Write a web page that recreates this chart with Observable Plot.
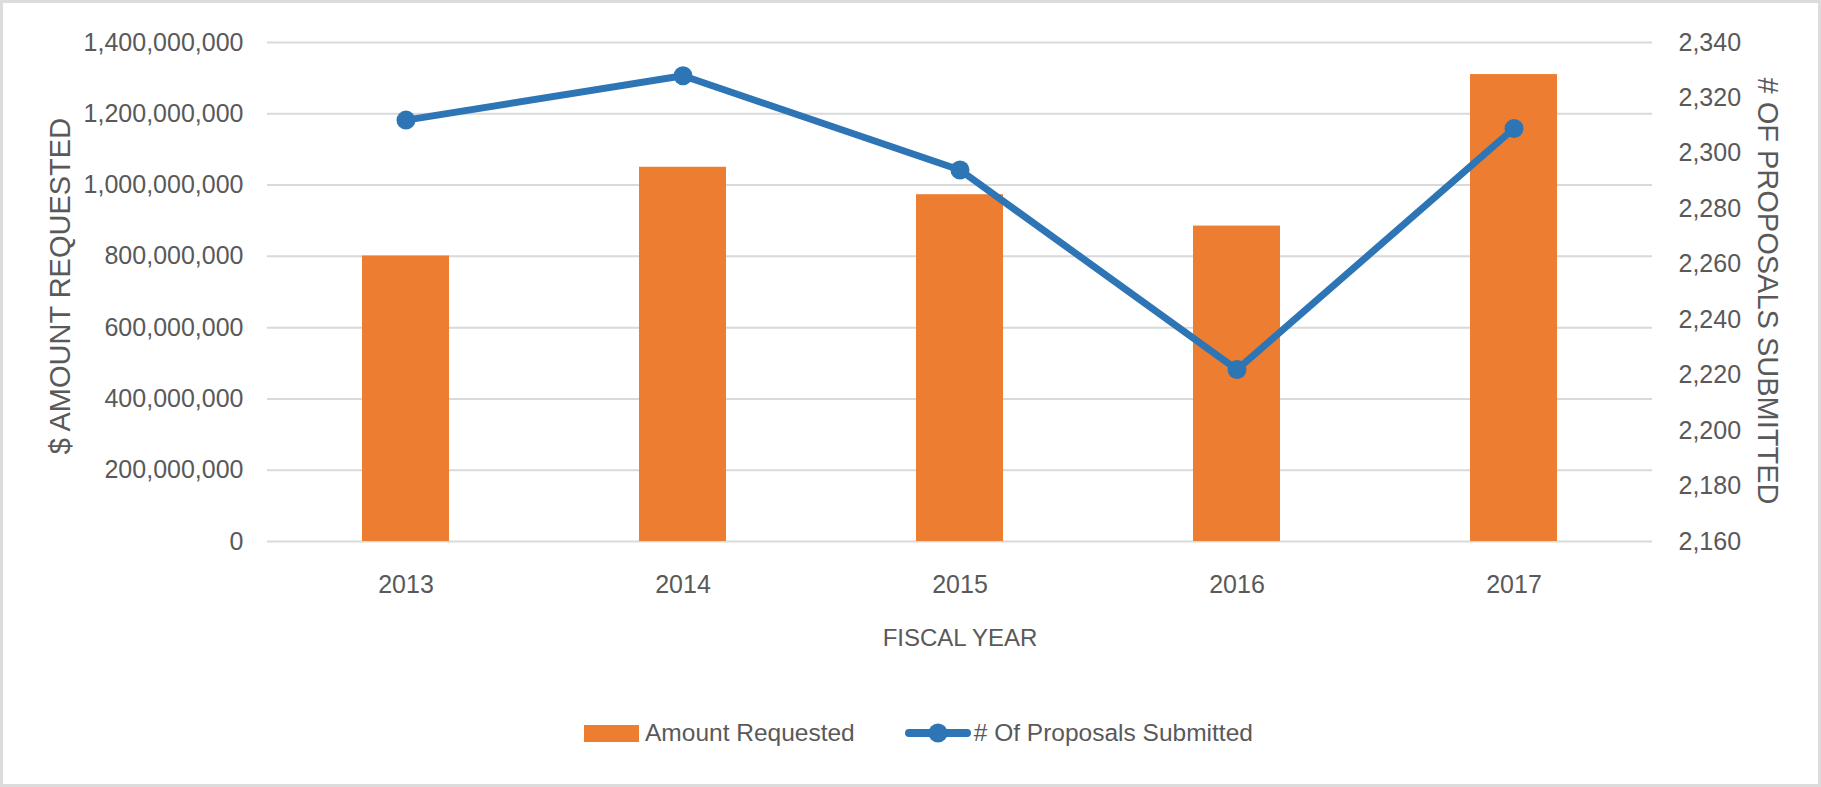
<!DOCTYPE html>
<html>
<head>
<meta charset="utf-8">
<script src="https://cdn.jsdelivr.net/npm/d3@7"></script>
<script src="https://cdn.jsdelivr.net/npm/@observablehq/plot@0.6"></script>
<style>
  html, body { margin: 0; padding: 0; background: #fff; }
  #wrap { position: relative; width: 1821px; height: 787px; overflow: hidden; background: #fff; }
  #frame { position: absolute; left: 0; top: 0; width: 1821px; height: 787px; box-sizing: border-box; border: 3px solid #dcdcdc; pointer-events: none; }
  #legend { position: absolute; top: 714px; left: 584px; height: 38px; display: flex; align-items: center;
            font-family: "Liberation Sans", sans-serif; font-size: 24.5px; color: #595959; }
  .sw-bar { width: 55px; height: 17px; background: #ed7d31; margin-right: 6px; }
  .lbl { white-space: nowrap; }
</style>
</head>
<body>
<div id="wrap">
  <div id="chart"></div>
  <div id="legend"></div>
  <div id="frame"></div>
</div>
<script>
// ---- data ----
const years = ["2013", "2014", "2015", "2016", "2017"];
const amountRequested = [801e6, 1050e6, 973e6, 885e6, 1310e6];
const proposalsSubmitted = [2312, 2328, 2294, 2222, 2309];
const leftTicks = [0, 2e8, 4e8, 6e8, 8e8, 10e8, 12e8, 14e8];
const rightTicks = [2160, 2180, 2200, 2220, 2240, 2260, 2280, 2300, 2320, 2340];
const seriesNames = ["Amount Requested", "# Of Proposals Submitted"];
const axisTitles = ["$ AMOUNT REQUESTED", "# OF PROPOSALS SUBMITTED", "FISCAL YEAR"];

// ---- secondary axis mapping onto the primary y scale ----
const leftMax = 1.4e9, rMin = 2160, rMax = 2340;
const toLeft = p => (p - rMin) / (rMax - rMin) * leftMax;
const fromLeft = v => Math.round(rMin + v / leftMax * (rMax - rMin));

const data = years.map((y, i) => ({year: y, amount: amountRequested[i], proposals: proposalsSubmitted[i]}));

const ORANGE = "#ed7d31", BLUE = "#2e75b6", GRID = "#d9d9d9", TEXT = "#595959";
const FONT = "'Liberation Sans', Arial, sans-serif";
const TICK = 25;
const fmt = d3.format(",");

const chart = Plot.plot({
  width: 1821,
  height: 690,
  marginLeft: 267,
  marginRight: 169,
  marginTop: 42,
  marginBottom: 149,
  style: {fontFamily: FONT, fontSize: TICK + "px", color: TEXT, background: "transparent"},
  x: {type: "band", domain: years, paddingInner: 0.686, paddingOuter: 0.343},
  y: {domain: [0, leftMax]},
  marks: [
    Plot.ruleY(leftTicks, {stroke: GRID, strokeWidth: 2}),
    Plot.barY(data, {x: "year", y: "amount", fill: ORANGE}),
    Plot.line(data, {x: "year", y: d => toLeft(d.proposals), stroke: BLUE, strokeWidth: 7, strokeLinejoin: "round", strokeLinecap: "round"}),
    Plot.dot(data, {x: "year", y: d => toLeft(d.proposals), r: 9.5, fill: BLUE, stroke: "none"}),
    Plot.axisY({anchor: "left", ticks: leftTicks, tickFormat: fmt, tickSize: 0, tickPadding: 24, label: null,
                fontSize: TICK, fontFamily: FONT, fill: TEXT}),
    Plot.axisY({anchor: "right", ticks: rightTicks.map(toLeft), tickFormat: v => fmt(fromLeft(v)), tickSize: 0, tickPadding: 26, label: null,
                fontSize: TICK, fontFamily: FONT, fill: TEXT}),
    Plot.axisX({anchor: "bottom", tickSize: 0, tickPadding: 34, label: null, fontSize: TICK, fontFamily: FONT, fill: TEXT}),
    Plot.text([axisTitles[0]], {text: d => d, frameAnchor: "left", rotate: -90, dx: -207, dy: -6,
                fontSize: 29, fontFamily: FONT, fill: TEXT, lineAnchor: "middle", textAnchor: "middle", letterSpacing: 1}),
    Plot.text([axisTitles[1]], {text: d => d, frameAnchor: "right", rotate: 90, dx: 115, dy: -1,
                fontSize: 29, fontFamily: FONT, fill: TEXT, lineAnchor: "middle", textAnchor: "middle"}),
    Plot.text([axisTitles[2]], {text: d => d, frameAnchor: "bottom", dy: 97,
                fontSize: 24, fontFamily: FONT, fill: TEXT, lineAnchor: "middle", textAnchor: "middle"})
  ]
});
document.getElementById("chart").appendChild(chart);

// ---- legend (HTML, below the SVG) ----
const legend = document.getElementById("legend");
legend.innerHTML = `
  <div class="sw-bar"></div>
  <span class="lbl">${seriesNames[0]}</span>
  <svg width="66" height="24" style="margin-left:50px;margin-right:3px">
    <line x1="4" y1="12" x2="62" y2="12" stroke="${BLUE}" stroke-width="8" stroke-linecap="round"></line>
    <circle cx="33" cy="12" r="9.5" fill="${BLUE}"></circle>
  </svg>
  <span class="lbl">${seriesNames[1]}</span>`;
</script>
</body>
</html>
